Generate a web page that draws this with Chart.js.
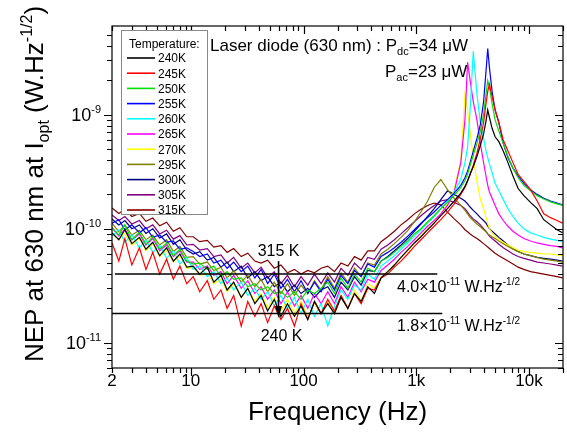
<!DOCTYPE html>
<html><head><meta charset="utf-8">
<script src="https://cdn.jsdelivr.net/npm/chart.js@4/dist/chart.umd.min.js"></script>
<style>html,body{margin:0;padding:0;background:#fff;}#wrap{width:567px;height:439px;}</style>
</head><body><div id="wrap"><canvas id="c" width="567" height="439"></canvas></div>
<script>
// ---------- DATA ----------
const frequencies = [2, 2.3, 2.6, 3, 3.5, 4, 4.6, 5.3, 6.1, 7, 8, 9.2,
  10.5, 12, 14, 16, 18.5, 21, 24, 28, 32, 37,
  42, 48, 55, 63, 72, 83, 95, 109, 125, 143,
  164, 188, 215, 247, 283, 324, 371, 425, 487, 558,
  639, 732, 839, 961, 1100, 1260, 1440, 1650,
  1890, 2170, 2480, 2700, 2850, 3000, 3200, 3450, 3700, 3950,
  4150, 4300, 4450, 4700, 5000, 5400, 5900, 6500, 7200, 8000,
  9000, 10300, 11800, 13500, 15500, 17700, 19800];

const temperatures = ['240K','245K','250K','255K','260K','265K','270K','295K','300K','305K','315K'];

// NEP values in units of 1e-12 W.Hz^-1/2
const nep240K = [92,80,98,74,84,66,76,58,68,52,60,46, 47,40,46,34,39,29,34,25,30,22, 26,19,24,17,22,17,21,16,23,18, 22,18,25,20,27,23,31,27,37,42, 48,56,65,75,85,98,112,130, 150,175,205,235,265,300,350,430,540,680, 880,1100,950,760,640,580,480,380,290,225, 195,170,150,120,108,98,92];
const nep245K = [75,52,82,48,68,44,62,40,54,36,47,33, 38,28,35,24,29,20,26,14,23,17, 22,15,21,16,20,14,22,16,23,18, 24,19,26,20,27,22,30,29,37,40, 46,52,60,70,80,92,105,120, 140,165,200,230,260,300,360,460,620,850, 1250,1600,1850,1450,1100,850,600,480,380,300, 260,220,175,135,125,118,112];
const nep250K = [102,88,108,80,93,73,85,66,75,58,66,52, 49,50,44,47,38,42,36,37,31,33, 29,31,27,28,25,28,24,29,27,30, 34,27,37,30,40,34,45,42,52,56, 62,70,78,90,100,115,130,150, 170,195,230,265,300,360,440,560,720,1000, 1500,2000,1750,1250,900,720,560,430,340,280, 240,215,195,182,172,165,160];
const nep255K = [112,120,98,108,92,102,84,88,76,78,66,68, 63,57,60,50,53,45,51,42,47,37, 44,33,40,30,36,28,35,27,34,28, 36,29,39,33,43,38,49,46,57,62, 68,76,86,98,112,125,140,160, 180,205,240,280,320,380,480,620,820,1300, 2400,3800,2600,1600,1100,850,560,420,340,290, 250,220,200,185,175,168,162];
const nep260K = [86,98,76,89,68,80,62,72,55,64,49,56, 44,47,38,42,33,37,29,34,26,30, 24,28,21,26,20,25,18,24,17,22, 14,21,29,24,32,29,40,36,47,52, 58,66,75,86,98,112,128,150, 175,210,270,380,520,1100,3600,1500,850,620, 480,420,370,310,250,215,180,150,128,112, 100,92,88,84,81,79,77];
const nep265K = [102,86,99,80,90,72,82,64,72,57,64,51, 51,44,47,39,42,33,39,30,35,27, 31,24,29,22,28,21,26,20,27,22, 28,22,31,25,34,28,36,34,43,48, 54,62,70,80,92,105,118,135, 160,210,380,900,2900,2000,1300,900,560,380, 290,240,210,185,160,135,118,105,95,88, 82,78,75,73,71,70,68];
const nep270K = [92,80,91,72,82,64,74,57,65,51,58,45, 46,39,41,33,36,28,33,25,30,23, 27,20,25,19,24,18,23,17,22,18, 23,18,26,20,29,23,33,30,38,42, 48,56,64,75,88,100,115,135, 165,220,400,1500,1100,700,420,260,180,150, 125,112,100,92,86,80,76,72,68,65, 63,62,61,60,60,59,58];
const nep295K = [112,94,108,88,97,80,88,72,80,63,70,56, 57,49,51,43,46,37,43,34,39,31, 36,28,34,27,33,26,32,27,35,29, 38,30,41,34,45,38,50,48,60,66, 74,84,96,115,140,175,230,270, 220,185,160,145,135,125,118,110,104,98, 94,90,88,85,82,78,74,70,66,63, 60,58,56,54,53,52,51];
const nep300K = [122,108,118,100,108,91,100,83,90,73,80,65, 60,63,53,56,46,51,42,47,37,42, 35,38,31,34,28,32,27,30,25,29, 31,25,34,29,38,32,43,42,52,57, 64,72,82,95,110,128,150,180, 215,200,185,175,165,155,145,135,125,118, 112,106,100,95,90,84,78,72,67,63, 60,58,56,55,54,53,52];
const nep305K = [132,118,128,110,118,100,108,90,97,81,87,72, 73,65,67,57,59,50,56,45,50,41, 46,37,42,33,39,31,38,32,40,33, 41,34,45,39,50,44,56,54,66,72, 80,90,102,115,130,145,160,175, 180,170,160,150,140,130,122,115,108,100, 95,90,86,82,78,73,68,64,60,57, 55,53,51,50,49,48,47];
const nep315K = [152,136,148,128,136,116,124,106,114,95,102,85, 85,77,79,69,71,62,67,57,61,52, 50,53,45,48,41,44,40,43,41,45, 47,42,50,47,57,53,64,64,77,85, 95,108,120,135,148,160,168,162, 140,122,108,98,94,90,86,82,78,74, 71,69,67,64,61,58,55,52,49,46, 44,42,41,40,39,38,37];

const xTickValues = [2, 10, 100, 1000, 10000];
const xTickLabels = ['2', '10', '100', '1k', '10k'];
const yTickValues = [1e-11, 1e-10, 1e-9];
const yTickExponents = ['-11', '-10', '-9'];

const refLevels = [4.0e-11, 1.8e-11];
const refFreqSpans = [[2.12, 1535], [2, 1700]];
const refMantissas = ['4.0', '1.8'];
const arrowFreq = 60, arrowFrom = 5.2e-11, arrowTo = 1.65e-11;

// ---------- STYLE ----------
const seriesColors = ['#000000','#ff0000','#00e000','#0000ff','#00ffff','#ff00ff','#ffff00','#808000','#000080','#800080','#800000'];
const FONT = "'Liberation Sans', Arial, Helvetica, sans-serif";
const seriesValues = [nep240K,nep245K,nep250K,nep255K,nep260K,nep265K,nep270K,nep295K,nep300K,nep305K,nep315K];

const datasets = seriesValues.map((vals, i) => ({
  label: temperatures[i],
  data: frequencies.map((f, j) => ({x: f, y: vals[j] * 1e-12})),
  borderColor: seriesColors[i], borderWidth: 1.2, pointRadius: 0, tension: 0, fill: false
}));
refLevels.forEach((lv, i) => datasets.push({
  label: 'ref' + i, data: [{x: refFreqSpans[i][0], y: lv}, {x: refFreqSpans[i][1], y: lv}],
  borderColor: '#000', borderWidth: 1.5, pointRadius: 0, order: -1
}));

function rich(ctx, parts, x, y, align) {
  let w = 0;
  for (const p of parts) { ctx.font = p.s + 'px ' + FONT; w += ctx.measureText(p.t).width; }
  let cx = align === 'center' ? x - w / 2 : align === 'right' ? x - w : x;
  ctx.textAlign = 'left'; ctx.textBaseline = 'alphabetic';
  for (const p of parts) { ctx.font = p.s + 'px ' + FONT; ctx.fillText(p.t, cx, y + (p.dy || 0)); cx += ctx.measureText(p.t).width; }
}

const decor = {
  id: 'decor',
  beforeDraw(chart) { const c = chart.ctx; c.save(); c.fillStyle = '#fff'; c.fillRect(0, 0, chart.width, chart.height); c.restore(); },
  afterDraw(chart) {
    const ctx = chart.ctx, a = chart.chartArea, xs = chart.scales.x, ys = chart.scales.y;
    ctx.save();
    ctx.strokeStyle = '#000'; ctx.fillStyle = '#000'; ctx.lineWidth = 1.2;
    ctx.strokeRect(a.left, a.top, a.right - a.left, a.bottom - a.top);
    ctx.beginPath();
    for (let n = 0; n <= 4; n++) for (let k = 1; k <= 9; k++) {
      const v = k * Math.pow(10, n); if (v < 2 || v > 20000) continue;
      const px = Math.round(xs.getPixelForValue(v)) + 0.5, L = k === 1 ? 8 : 5;
      ctx.moveTo(px, a.bottom); ctx.lineTo(px, a.bottom + L);
      ctx.moveTo(px, a.top); ctx.lineTo(px, a.top + L);
    }
    for (let n = -12; n <= -9; n++) for (let k = 1; k <= 9; k++) {
      const v = k * Math.pow(10, n); if (v < 6e-12 || v > 6e-9) continue;
      const py = Math.round(ys.getPixelForValue(v)) + 0.5, L = k === 1 ? 8 : 5;
      ctx.moveTo(a.left - L, py); ctx.lineTo(a.left, py);
      ctx.moveTo(a.right - L, py); ctx.lineTo(a.right, py);
    }
    ctx.stroke();
    xTickValues.forEach((v, i) => rich(ctx, [{t: xTickLabels[i], s: 17}], xs.getPixelForValue(v), a.bottom + 18, 'center'));
    yTickValues.forEach((v, i) => rich(ctx, [{t: '10', s: 18}, {t: yTickExponents[i], s: 11, dy: -8}], a.left - 11, ys.getPixelForValue(v) + 6.5, 'right'));
    rich(ctx, [{t: 'Frequency (Hz)', s: 26}], (a.left + a.right) / 2, 420, 'center');
    ctx.save(); ctx.translate(43, 184); ctx.rotate(-Math.PI / 2);
    rich(ctx, [{t: 'NEP at 630 nm at I', s: 26}, {t: 'opt', s: 16, dy: 6}, {t: ' (W.Hz', s: 26}, {t: '-1/2', s: 16, dy: -11}, {t: ')', s: 26}], 0, 0, 'center');
    ctx.restore();
    ctx.fillStyle = '#fff'; ctx.fillRect(121.5, 30.5, 86, 184);
    ctx.strokeStyle = '#888'; ctx.lineWidth = 1; ctx.strokeRect(121.5, 30.5, 86, 184);
    ctx.fillStyle = '#000';
    rich(ctx, [{t: 'Temperature:', s: 12}], 129, 47.5, 'left');
    temperatures.forEach((t, i) => {
      const y = 58 + 15.2 * i;
      ctx.strokeStyle = seriesColors[i]; ctx.lineWidth = 1.6;
      ctx.beginPath(); ctx.moveTo(127, y); ctx.lineTo(155, y); ctx.stroke();
      rich(ctx, [{t: t, s: 12}], 158, y + 4.3, 'left');
    });
    ctx.fillStyle = '#000';
    rich(ctx, [{t: 'Laser diode (630 nm) : P', s: 17}, {t: 'dc', s: 11, dy: 4}, {t: '=34 \u03BCW', s: 17}], 210, 51, 'left');
    rich(ctx, [{t: 'P', s: 17}, {t: 'ac', s: 11, dy: 4}, {t: '=23 \u03BCW', s: 17}], 385, 77, 'left');
    refLevels.forEach((lv, i) => {
      const y = ys.getPixelForValue(lv) + 17.5;
      rich(ctx, [{t: refMantissas[i] + '\u00D710', s: 16}, {t: '-11', s: 10, dy: -7}, {t: ' W.Hz', s: 16}, {t: '-1/2', s: 10, dy: -7}], 397, y, 'left');
    });
    const ax = xs.getPixelForValue(arrowFreq), ay0 = ys.getPixelForValue(arrowFrom), ay1 = ys.getPixelForValue(arrowTo);
    ctx.strokeStyle = '#000'; ctx.lineWidth = 1.6;
    ctx.beginPath(); ctx.moveTo(ax, ay0); ctx.lineTo(ax, ay1 - 8); ctx.stroke();
    ctx.beginPath(); ctx.moveTo(ax - 3.5, ay1 - 12); ctx.lineTo(ax + 3.5, ay1 - 12); ctx.lineTo(ax, ay1); ctx.closePath(); ctx.fill();
    rich(ctx, [{t: '315 K', s: 16}], ax, ay0 - 5, 'center');
    rich(ctx, [{t: '240 K', s: 16}], ax + 3, ay1 + 23, 'center');
    ctx.restore();
  }
};

new Chart(document.getElementById('c'), {
  type: 'line',
  data: {datasets},
  options: {
    responsive: false, animation: false, events: [],
    layout: {padding: {top: 26, right: 4, left: 0, bottom: 0}},
    plugins: {legend: {display: false}, tooltip: {enabled: false}},
    scales: {
      x: {type: 'logarithmic', min: 2, max: 20000, grid: {display: false}, border: {display: false}, ticks: {display: false}, afterFit(s) { s.height = 71; }},
      y: {type: 'logarithmic', min: 6e-12, max: 6e-9, grid: {display: false}, border: {display: false}, ticks: {display: false}, afterFit(s) { s.width = 112; }}
    }
  },
  plugins: [decor]
});
</script></body></html>
